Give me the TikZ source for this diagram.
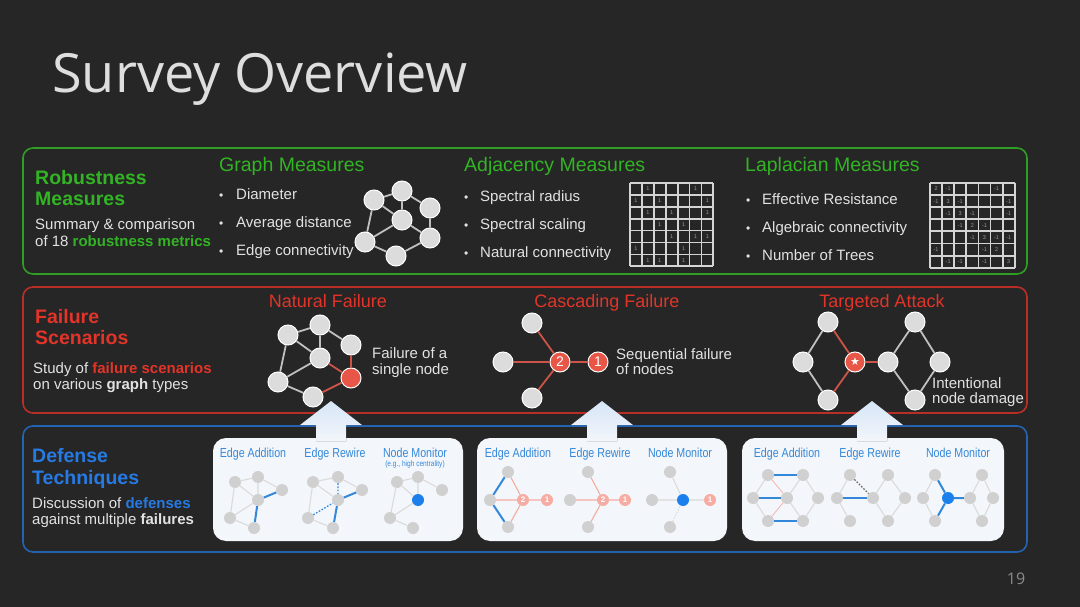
\documentclass[tikz,border=0pt]{standalone}
\usepackage{fontspec}
\setmainfont{Liberation Sans}
\newfontfamily\titlefont{Open Sans}
\newfontfamily\narrowfont[FakeStretch=0.82]{Liberation Sans}
\newfontfamily\symfont{DejaVu Sans}
\usetikzlibrary{positioning}

\definecolor{bgdark}{RGB}{38,38,38}
\definecolor{titlegray}{RGB}{222,222,222}
\definecolor{numgray}{RGB}{140,140,140}
\definecolor{robgreen}{RGB}{50,180,36}
\definecolor{boxgreen}{RGB}{46,158,36}
\definecolor{failred}{RGB}{226,52,40}
\definecolor{boxred}{RGB}{186,46,40}
\definecolor{defblue}{RGB}{38,122,228}
\definecolor{boxblue}{RGB}{36,98,178}
\definecolor{txtlight}{RGB}{226,226,226}
\definecolor{nodegray}{RGB}{220,220,220}
\definecolor{edgegray}{RGB}{192,192,192}
\definecolor{hitred}{RGB}{232,86,72}
\definecolor{edgered}{RGB}{204,84,72}
\definecolor{gridgray}{RGB}{212,212,212}
\definecolor{cellgray}{RGB}{155,155,155}
\definecolor{panelwhite}{RGB}{243,246,250}
\definecolor{arrowtop}{RGB}{214,229,247}
\definecolor{mininode}{RGB}{208,208,208}
\definecolor{miniedge}{RGB}{218,218,218}
\definecolor{minipink}{RGB}{246,172,162}
\definecolor{monblue}{RGB}{28,128,236}
\definecolor{linkblue}{RGB}{52,136,218}

\tikzset{
  sectbox/.style={rounded corners=10pt, line width=1.6pt},
  headtxt/.style={anchor=base west, inner sep=0pt, font=\fontsize{19.5}{20}\selectfont},
  failhead/.style={anchor=base, inner sep=0pt, text=failred, font=\fontsize{18}{20}\selectfont},
  bigtxt/.style={anchor=base west, inner sep=0pt, font=\fontsize{19.5}{20}\selectfont\bfseries},
  blurb/.style={anchor=base west, inner sep=0pt, text=txtlight, font=\fontsize{15}{16}\selectfont},
  bulletdot/.style={anchor=base west, inner sep=0pt, text=txtlight, font=\fontsize{12}{12}\selectfont},
  gridline/.style={gridgray, line width=1.8pt},
  cellnum/.style={inner sep=0pt, text=cellgray, font=\fontsize{5.5}{5.5}\selectfont},
  gnode/.style={circle, fill=nodegray, draw=white, line width=1pt, minimum size=20pt, inner sep=0pt},
  hnode/.style={gnode, fill=hitred, text=white, font=\fontsize{14}{14}\selectfont},
  gedge/.style={edgegray, line width=1.8pt},
  redge/.style={edgered, line width=1.8pt},
  panelbox/.style={fill=panelwhite, rounded corners=13pt},
  upblock/.style={top color=arrowtop, bottom color=panelwhite},
  techtxt/.style={anchor=base, inner sep=0pt, text=linkblue, font=\narrowfont\fontsize{13}{13}\selectfont},
  mnode/.style={circle, fill=mininode, minimum size=12pt, inner sep=0pt},
  pnode/.style={mnode, fill=minipink, text=white, font=\fontsize{8}{8}\selectfont\bfseries},
  bnode/.style={mnode, fill=monblue},
  medge/.style={miniedge, line width=1.1pt},
  pedge/.style={minipink, line width=1.1pt},
  bedge/.style={linkblue, line width=2pt},
  dedge/.style={linkblue, line width=1.3pt, dash pattern=on 1.6pt off 1.6pt},
}

\begin{document}
\begin{tikzpicture}[x=1pt, y=-1pt]
    \useasboundingbox (0,0) rectangle (1080,607);
    \fill[bgdark] (0,0) rectangle (1080,607);

    % title
    \node (title) [anchor=base west, inner sep=0pt, text=titlegray, font=\titlefont\fontsize{54}{60}\selectfont] at (52,93) {Survey Overview};
    \node (pagenum) [anchor=base, inner sep=0pt, text=numgray, font=\titlefont\fontsize{16}{16}\selectfont] at (1016,584) {19};

    % three sections
    \draw[sectbox, boxgreen] (23,148) rectangle (1027,274);
    \draw[sectbox, boxred] (23,287) rectangle (1027,413);
    \draw[sectbox, boxblue] (23,426) rectangle (1027,552);

    % robustness measures
    \node (rob1) [bigtxt, text=robgreen] at (35,185) {Robustness};
    \node (rob2) [bigtxt, text=robgreen] at (35,206) {Measures};
    \node (robsub1) [blurb] at (35,229.5) {Summary \& comparison};
    \node (robsub2) [blurb] at (35,246.5) {of 18 {\color{robgreen}\bfseries robustness metrics}};

    \node (graphhead) [headtxt, text=robgreen] at (219,172) {Graph Measures};
    \node (adjhead) [headtxt, text=robgreen] at (464,172) {Adjacency Measures};
    \node (laphead) [headtxt, text=robgreen] at (745,172) {Laplacian Measures};

    \foreach \txt [count=\k] in {Diameter, Average distance, Edge connectivity} {
        \node (gdot\k) [bulletdot] at (219,171.5+28*\k) {•};
        \node (gitem\k) [blurb] at (236,171.5+28*\k) {\txt};
    }
    \foreach \txt [count=\k] in {Spectral radius, Spectral scaling, Natural connectivity} {
        \node (adot\k) [bulletdot] at (464,173.5+28*\k) {•};
        \node (aitem\k) [blurb] at (480,173.5+28*\k) {\txt};
    }
    \foreach \txt [count=\k] in {Effective Resistance, Algebraic connectivity, Number of Trees} {
        \node (ldot\k) [bulletdot] at (746,176.5+28*\k) {•};
        \node (litem\k) [blurb] at (762,176.5+28*\k) {\txt};
    }

    % small graph
    \node (ga) [gnode] at (374,200) {};
    \node (gb) [gnode] at (402,191) {};
    \node (gc) [gnode] at (430,208) {};
    \node (gd) [gnode] at (402,220) {};
    \node (ge) [gnode] at (430,238) {};
    \node (gf) [gnode] at (365,242) {};
    \node (gg) [gnode] at (396,256) {};
    \draw[gedge] (ga) -- (gb) (gb) -- (gc) (gb) -- (gd) (ga) -- (gd) (gc) -- (ge);
    \draw[gedge] (gd) -- (ge) (ga) -- (gf) (gf) -- (gd) (gf) -- (gg) (gg) -- (ge);

    % adjacency matrix
    \foreach \k in {0,...,7} {
        \draw[gridline] (630+11.9*\k,183) -- (630+11.9*\k,266.3);
        \draw[gridline] (630,183+11.9*\k) -- (713.3,183+11.9*\k);
    }
    \foreach \r/\c in {1/2,1/6,2/1,2/3,2/7,3/2,3/4,3/7,4/3,4/5,5/4,5/6,5/7,6/1,6/5,7/2,7/3,7/5}
        \node (adj\r\c) [cellnum] at (630+11.9*\c-5.95,183+11.9*\r-5.95) {1};

    % laplacian matrix
    \foreach \k in {0,...,7} {
        \draw[gridline] (930+12.1*\k,183) -- (930+12.1*\k,267.7);
        \draw[gridline] (930,183+12.1*\k) -- (1014.7,183+12.1*\k);
    }
    \foreach \r/\c/\v in {1/1/2,1/2/-1,1/6/-1,2/1/-1,2/2/3,2/3/-1,2/7/-1,3/2/-1,3/3/3,3/4/-1,3/7/-1,
                          4/3/-1,4/4/2,4/5/-1,5/4/-1,5/5/3,5/6/-1,5/7/-1,6/1/-1,6/5/-1,6/6/2,
                          7/2/-1,7/3/-1,7/5/-1,7/7/3}
        \node (lap\r\c) [cellnum] at (930+12.1*\c-6.05,183+12.1*\r-6.05) {\v};

    % failure scenarios
    \node (fail1) [bigtxt, text=failred] at (35,323) {Failure};
    \node (fail2) [bigtxt, text=failred] at (35,344) {Scenarios};
    \node (failsub1) [blurb] at (33,373.5) {Study of {\color{failred}\bfseries failure scenarios}};
    \node (failsub2) [blurb] at (33,389.5) {on various {\bfseries graph} types};

    \node (nathead) [failhead] at (328,307.5) {Natural Failure};
    \node (cashead) [failhead] at (607,307.5) {Cascading Failure};
    \node (tarhead) [failhead] at (882,307.5) {Targeted Attack};

    % natural failure
    \node (na) [gnode] at (288,335) {};
    \node (nb) [gnode] at (320,325) {};
    \node (nc) [gnode] at (351,345) {};
    \node (nd) [gnode] at (320,358) {};
    \node (ne) [hnode] at (351,378) {};
    \node (nf) [gnode] at (278,382) {};
    \node (ng) [gnode] at (313,397) {};
    \draw[gedge] (na) -- (nb) (nb) -- (nc) (nb) -- (nd) (na) -- (nd);
    \draw[gedge] (na) -- (nf) (nf) -- (nd) (nf) -- (ng);
    \draw[redge] (nc) -- (ne) (nd) -- (ne) (ng) -- (ne);
    \node (natnote1) [blurb] at (372,358.5) {Failure of a};
    \node (natnote2) [blurb] at (372,374.5) {single node};

    % cascading failure
    \node (ct) [gnode] at (532,323) {};
    \node (cl) [gnode] at (503,362) {};
    \node (cb) [gnode] at (532,398) {};
    \node (c2) [hnode] at (560,362) {2};
    \node (c1) [hnode] at (598,362) {1};
    \draw[redge] (ct) -- (c2) (cl) -- (c2) (cb) -- (c2) (c2) -- (c1);
    \node (casnote1) [blurb] at (616,359.5) {Sequential failure};
    \node (casnote2) [blurb] at (616,374.5) {of nodes};

    % targeted attack
    \node (tt1) [gnode] at (828,322) {};
    \node (tl1) [gnode] at (803,362) {};
    \node (tb1) [gnode] at (828,400) {};
    \node (ts) [hnode, font=\symfont\fontsize{11}{11}\selectfont] at (855,362) {★};
    \node (tl2) [gnode] at (888,362) {};
    \node (tt2) [gnode] at (915,322) {};
    \node (tr2) [gnode] at (940,362) {};
    \node (tb2) [gnode] at (915,400) {};
    \draw[gedge] (tt1) -- (tl1) (tl1) -- (tb1) (tl2) -- (tt2) (tt2) -- (tr2) (tl2) -- (tb2) (tb2) -- (tr2);
    \draw[redge] (tt1) -- (ts) (tb1) -- (ts) (ts) -- (tl2);
    \node (tarnote1) [blurb] at (932,388.5) {Intentional};
    \node (tarnote2) [blurb] at (932,403.5) {node damage};

    % defense techniques
    \node (def1) [bigtxt, text=defblue] at (32,462) {Defense};
    \node (def2) [bigtxt, text=defblue] at (32,484) {Techniques};
    \node (defsub1) [blurb] at (32,508.5) {Discussion of {\color{defblue}\bfseries defenses}};
    \node (defsub2) [blurb] at (32,524.5) {against multiple {\bfseries failures}};

    % panels and arrows
    \fill[panelbox] (213,438) rectangle (463,541);
    \fill[panelbox] (477,438) rectangle (727,541);
    \fill[panelbox] (742,438) rectangle (1004,541);
    \foreach \ax in {331,602,872}
        \fill[upblock] (\ax,401) -- ++(31,24) -- ++(-16,0) -- ++(0,16) -- ++(-30,0) -- ++(0,-16) -- ++(-16,0) -- cycle;

    \foreach \px/\pn in {253/1,518/2,787/3} \node (add\pn) [techtxt] at (\px,457.5) {Edge Addition};
    \foreach \px/\pn in {335/1,600/2,870/3} \node (rew\pn) [techtxt] at (\px,457.5) {Edge Rewire};
    \foreach \px/\pn in {415/1,680/2,958/3} \node (mon\pn) [techtxt] at (\px,457.5) {Node Monitor};
    \node (moneg) [techtxt, font=\narrowfont\fontsize{8}{8}\selectfont] at (415,466.5) {(e.g., high centrality)};

    % panel 1
    \node (pa1) [mnode] at (235,482) {};
    \node (pa2) [mnode] at (258,477) {};
    \node (pa3) [mnode] at (282,490) {};
    \node (pa4) [mnode] at (258,500) {};
    \node (pa5) [mnode] at (230,518) {};
    \node (pa6) [mnode] at (254,528) {};
    \draw[medge] (pa1) -- (pa2) (pa2) -- (pa3) (pa2) -- (pa4) (pa1) -- (pa4) (pa1) -- (pa5) (pa5) -- (pa4) (pa5) -- (pa6);
    \draw[bedge] (pa4) -- (pa3) (pa4) -- (pa6);

    \node (pr1) [mnode] at (313,482) {};
    \node (pr2) [mnode] at (338,477) {};
    \node (pr3) [mnode] at (362,490) {};
    \node (pr4) [mnode] at (338,500) {};
    \node (pr5) [mnode] at (308,518) {};
    \node (pr6) [mnode] at (333,528) {};
    \draw[medge] (pr1) -- (pr2) (pr2) -- (pr3) (pr1) -- (pr4) (pr1) -- (pr5) (pr5) -- (pr6);
    \draw[dedge] (pr2) -- (pr4) (pr5) -- (pr4);
    \draw[bedge] (pr4) -- (pr3) (pr4) -- (pr6);

    \node (pm1) [mnode] at (397,482) {};
    \node (pm2) [mnode] at (418,477) {};
    \node (pm3) [mnode] at (442,490) {};
    \node (pm4) [bnode] at (418,500) {};
    \node (pm5) [mnode] at (390,518) {};
    \node (pm6) [mnode] at (413,528) {};
    \draw[medge] (pm1) -- (pm2) (pm2) -- (pm3) (pm2) -- (pm4) (pm1) -- (pm4) (pm1) -- (pm5) (pm5) -- (pm4) (pm5) -- (pm6);

    % panel 2
    \node (qat) [mnode] at (508,472) {};
    \node (qal) [mnode] at (490,500) {};
    \node (qab) [mnode] at (508,527) {};
    \node (qa2) [pnode] at (523,500) {2};
    \node (qa1) [pnode] at (547,500) {1};
    \draw[pedge] (qal) -- (qa2) (qat) -- (qa2) (qab) -- (qa2) (qa2) -- (qa1);
    \draw[bedge] (qal) -- (qat) (qal) -- (qab);

    \node (qrt) [mnode] at (588,472) {};
    \node (qrl) [mnode] at (570,500) {};
    \node (qrb) [mnode] at (588,527) {};
    \node (qr2) [pnode] at (603,500) {2};
    \node (qr1) [pnode] at (625,500) {1};
    \draw[pedge] (qrt) -- (qr2) (qrl) -- (qr2) (qrb) -- (qr2) (qr2) -- (qr1);

    \node (qmt) [mnode] at (670,472) {};
    \node (qml) [mnode] at (652,500) {};
    \node (qmb) [mnode] at (670,527) {};
    \node (qmc) [bnode] at (683,500) {};
    \node (qm1) [pnode] at (710,500) {1};
    \draw[medge] (qmt) -- (qmc) (qml) -- (qmc) (qmc) -- (qm1);
    \draw[medge, dash pattern=on 1.5pt off 1.5pt] (qmb) -- (qmc);

    % panel 3
    \node (rat1) [mnode] at (768,475) {};
    \node (ral1) [mnode] at (753,498) {};
    \node (rab1) [mnode] at (768,521) {};
    \node (ral2) [mnode] at (787,498) {};
    \node (rat2) [mnode] at (803,475) {};
    \node (rar2) [mnode] at (818,498) {};
    \node (rab2) [mnode] at (803,521) {};
    \draw[medge] (rat1) -- (ral1) (ral1) -- (rab1) (ral2) -- (rat2) (rat2) -- (rar2) (ral2) -- (rab2) (rab2) -- (rar2);
    \draw[pedge, line width=0.7pt] (rat1) -- (ral2) (rab1) -- (ral2);
    \draw[bedge] (rat1) -- (rat2) (ral1) -- (ral2) (rab1) -- (rab2);

    \node (rrt1) [mnode] at (850,475) {};
    \node (rrl1) [mnode] at (837,498) {};
    \node (rrb1) [mnode] at (850,521) {};
    \node (rrl2) [mnode] at (873,498) {};
    \node (rrt2) [mnode] at (888,475) {};
    \node (rrr2) [mnode] at (905,498) {};
    \node (rrb2) [mnode] at (888,521) {};
    \draw[medge] (rrt1) -- (rrl1) (rrl1) -- (rrb1) (rrl2) -- (rrt2) (rrt2) -- (rrr2) (rrl2) -- (rrb2) (rrb2) -- (rrr2);
    \draw[dedge, black!60] (rrt1) -- (rrl2);
    \draw[bedge] (rrl1) -- (rrl2);

    \node (rmt1) [mnode] at (935,475) {};
    \node (rml1) [mnode] at (923,498) {};
    \node (rmb1) [mnode] at (935,521) {};
    \node (rms) [bnode] at (948,498) {};
    \node (rml2) [mnode] at (970,498) {};
    \node (rmt2) [mnode] at (982,475) {};
    \node (rmr2) [mnode] at (993,498) {};
    \node (rmb2) [mnode] at (982,521) {};
    \draw[medge] (rmt1) -- (rml1) (rml1) -- (rmb1) (rml2) -- (rmt2) (rmt2) -- (rmr2) (rml2) -- (rmb2) (rmb2) -- (rmr2);
    \draw[bedge] (rmt1) -- (rms) (rmb1) -- (rms) (rms) -- (rml2);
\end{tikzpicture}
\end{document}
